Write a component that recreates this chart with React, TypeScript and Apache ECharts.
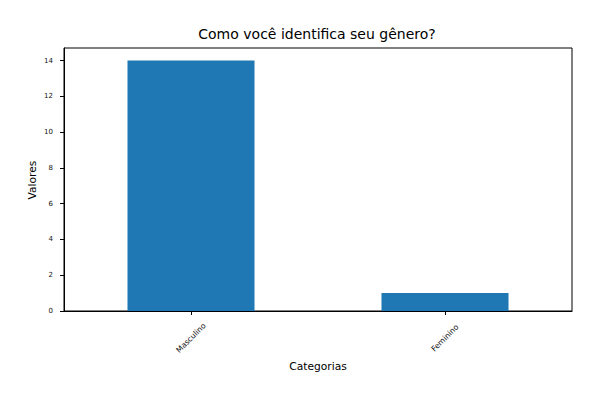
import React, { useEffect, useRef } from "react";
import * as echarts from "echarts";

const categories = ["Masculino", "Feminino"];
const values = [14, 1];
const yTicks = [0, 2, 4, 6, 8, 10, 12, 14];
const titleText = "Como você identifica seu gênero?";
const xName = "Categorias";
const yName = "Valores";

export default function App() {
  const ref = useRef<HTMLDivElement>(null);
  useEffect(() => {
    const chart = echarts.init(ref.current!, null, { renderer: "svg" });
    const font = "DejaVu Sans";
    chart.setOption({
      animation: false,
      textStyle: { fontFamily: font },
      title: {
        text: titleText,
        left: 312,
        top: 22,
        textAlign: "center",
        textStyle: { fontFamily: font, fontSize: 14, fontWeight: "normal", color: "#000" },
      },
      graphic: [
        {
          type: "text",
          x: 32,
          y: 180,
          rotation: Math.PI / 2,
          style: {
            text: yName,
            fontFamily: font,
            fontSize: 10.7,
            fill: "#000",
            textAlign: "center",
            textVerticalAlign: "middle",
          },
        },
      ],
      grid: {
        left: 64,
        right: 28,
        top: 48,
        bottom: 89,
        show: true,
        borderColor: "#000",
        borderWidth: 1,
        backgroundColor: "#fff",
      },
      xAxis: {
        type: "category",
        data: categories,
        name: xName,
        nameLocation: "middle",
        nameGap: 50,
        nameTextStyle: { fontFamily: font, fontSize: 10.7, color: "#000" },
        axisLine: { show: true, lineStyle: { color: "#000", width: 1 } },
        axisTick: { show: true, alignWithLabel: true, length: 4, lineStyle: { color: "#000" } },
        axisLabel: {
          rotate: 45,
          fontSize: 7.7,
          color: "#111",
          fontFamily: font,
          margin: 27,
          align: "center",
          verticalAlign: "middle",
        },
        splitLine: { show: false },
      },
      yAxis: {
        type: "value",
        min: 0,
        max: 14.7,
        interval: 2,
        axisLine: { show: true, lineStyle: { color: "#000", width: 1 } },
        axisTick: { show: true, length: 4, lineStyle: { color: "#000" }, customValues: yTicks },
        axisLabel: { fontSize: 7, color: "#111", fontFamily: font, margin: 11, customValues: yTicks },
        splitLine: { show: false },
      },
      series: [
        {
          type: "bar",
          data: values,
          barWidth: "50%",
          itemStyle: { color: "#1f77b4" },
        },
      ],
    });
    return () => chart.dispose();
  }, []);
  return <div ref={ref} style={{ width: 600, height: 400, margin: -8 }} />;
}
